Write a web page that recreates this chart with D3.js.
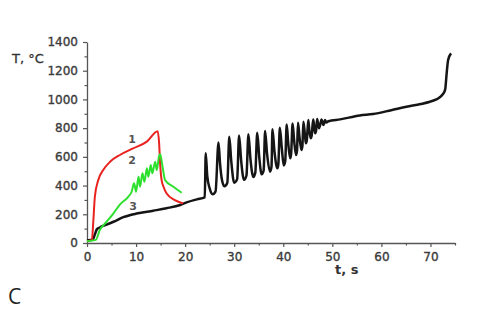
<!DOCTYPE html>
<html>
<head>
<meta charset="utf-8">
<script src="https://cdn.jsdelivr.net/npm/d3@7"></script>
<title>T vs t</title>
<style>
  body { margin: 0; background: #fff; }
  text { font-family: "DejaVu Sans", sans-serif; }
</style>
</head>
<body>
<svg id="chart" width="481" height="310"></svg>
<script>
// tick values
var xTicks = [0, 10, 20, 30, 40, 50, 60, 70];
var yTicks = [0, 200, 400, 600, 800, 1000, 1200, 1400];

// curve 1 (red): [t, T]
var curve1 = [[0,12],[1.0,22],[1.3,160],[1.6,322],[2.3,439],[3.3,508],[4.7,566],[6.7,613],
  [9.4,659],[12.2,706],[14.4,778],[14.7,694],[14.9,555],[15.2,439],[15.6,392],[16.2,346],
  [17.9,299],[19.6,276]];

// curve 2 (green)
var curve2 = [[0,12],[1.8,22],[2.6,90],[4.0,148],[5.4,207],[6.7,268],[8.4,322],[9.1,357],
  [9.6,416],[10.0,357],[10.5,462],[10.8,392],[11.3,485],[11.7,427],[12.2,520],[12.5,462],
  [13.0,543],[13.3,485],[13.9,566],[14.2,508],[14.7,606],[14.9,620],[15.4,531],[15.9,439],
  [17.6,392],[19.3,350]];

// curve 3 (black)
var curve3 = [[0,18],[1.2,25],[1.6,60],[2.0,95],[2.6,108],[3.0,115],[4.0,128],[5.4,148],
  [7.4,180],[10.1,205],[13.5,225],[16.2,242],[19.0,265],[20.3,283],[22.4,304],[24.0,318],
  [24.2,625],[24.5,470],[25.0,380],[25.6,340],[26.2,360],[26.8,700],[27.1,560],[27.5,440],
  [28.0,395],[28.6,420],[29.0,740],[29.4,570],[30.0,420],[30.6,445],[31.0,748],[31.4,580],
  [32.0,440],[32.5,470],[32.9,758],[33.3,590],[33.9,460],[34.3,490],[34.7,768],[35.1,600],
  [35.6,478],[36.0,505],[36.3,780],[36.7,620],[37.3,497],[37.6,530],[37.8,792],[38.2,640],
  [38.8,520],[39.0,550],[39.3,803],[39.7,660],[40.1,540],[40.4,570],[40.7,826],[41.0,700],
  [41.4,590],[41.6,620],[41.9,833],[42.2,720],[42.6,613],[42.8,640],[43.0,838],[43.3,740],
  [43.7,648],[43.9,675],[44.1,845],[44.4,760],[44.6,694],[44.8,715],[45.1,857],[45.3,790],
  [45.6,729],[45.8,750],[46.1,861],[46.3,810],[46.5,764],[46.7,785],[46.9,863],[47.1,830],
  [47.3,800],[47.5,820],[47.8,861],[48.0,840],[48.2,822],[48.35,835],[48.5,857],[48.8,840],
  [49.2,848],[51.6,861],[55.6,888],[58.3,898],[62,925],[65.1,949],[68,968],[69.9,984],
  [71.2,1000],[71.9,1015],[72.6,1040],[73.0,1070],[73.3,1182],[73.6,1274],[74.2,1321]];

var svg = d3.select('#chart');

var x = d3.scaleLinear().domain([0, 75]).range([87, 455]);
var y = d3.scaleLinear().domain([0, 1400]).range([243, 42]);

// x axis with minor ticks every 5 s
var xAxis = svg.append('g').attr('transform', 'translate(0,243)')
  .call(d3.axisBottom(x).tickValues(d3.range(0, 76, 5)).tickSize(4).tickSizeOuter(0)
    .tickFormat(function(d) { return xTicks.indexOf(d) >= 0 ? d : ''; }));

var yAxis = svg.append('g').attr('transform', 'translate(87,0)')
  .call(d3.axisLeft(y).tickValues(d3.range(0, 1401, 100)).tickSize(4).tickSizeOuter(0)
    .tickFormat(function(d) { return yTicks.indexOf(d) >= 0 ? d : ''; }));

[xAxis, yAxis].forEach(function(g) {
  g.select('.domain').attr('stroke', '#555').attr('stroke-width', 1.3);
  g.selectAll('.tick line').attr('stroke', '#555').attr('stroke-width', 1.2);
  g.selectAll('.tick text').attr('fill', '#3a3a3a').attr('stroke', '#3a3a3a')
    .attr('stroke-width', 0.35).style('font-size', '12px')
    .style('font-family', '"DejaVu Sans", sans-serif');
});
xAxis.selectAll('.tick text').attr('dy', '0.95em');
yAxis.selectAll('.tick line').attr('x2', function(d) { return d % 200 === 0 ? -4 : -2.5; });
xAxis.selectAll('.tick line').attr('y2', function(d) { return d % 10 === 0 ? 4 : 2.5; });
yAxis.selectAll('.tick text').attr('x', -9);

var line = d3.line()
  .x(function(d) { return x(d[0]); })
  .y(function(d) { return y(d[1]); })
  .curve(d3.curveMonotoneX);

svg.append('path').datum(curve3).attr('d', line)
  .attr('fill', 'none').attr('stroke', '#151515').attr('stroke-width', 2.5);
svg.append('path').datum(curve1).attr('d', line)
  .attr('fill', 'none').attr('stroke', '#e8231f').attr('stroke-width', 2);
svg.append('path').datum(curve2).attr('d', line)
  .attr('fill', 'none').attr('stroke', '#2ee02e').attr('stroke-width', 2);

// curve numbers
var nums = [['1', 9.2, 700], ['2', 9.2, 552], ['3', 9.4, 232]];
svg.selectAll('.num').data(nums).enter().append('text')
  .attr('class', 'num')
  .attr('x', function(d) { return x(d[1]); })
  .attr('y', function(d) { return y(d[2]); })
  .attr('text-anchor', 'middle')
  .attr('fill', '#555').style('font-size', '11px').style('font-weight', 'bold')
  .text(function(d) { return d[0]; });

// axis titles
svg.append('text').attr('x', 12).attr('y', 63).attr('fill', '#333')
  .attr('stroke', '#333').attr('stroke-width', 0.3)
  .style('font-size', '13px').text('T, °C');
svg.append('text').attr('x', 335).attr('y', 274).attr('fill', '#333')
  .style('font-size', '13px').style('font-weight', 'bold').text('t, s');

svg.append('text').attr('x', 8).attr('y', 304).attr('fill', '#222')
  .style('font-family', '"Open Sans", sans-serif').style('font-size', '21px').text('C');
</script>
</body>
</html>
